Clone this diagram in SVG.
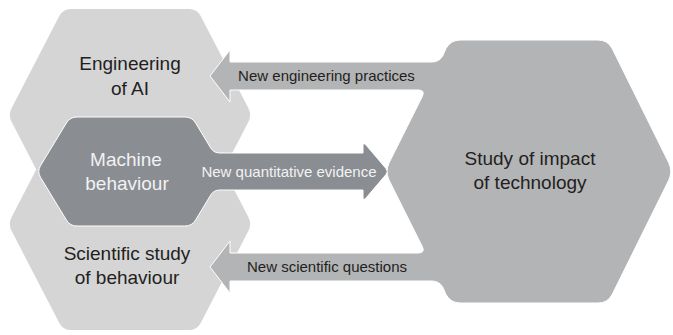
<svg xmlns="http://www.w3.org/2000/svg" width="673" height="335" viewBox="0 0 673 335">
<style>
text{font-family:"Liberation Sans",Arial,Helvetica,sans-serif;text-anchor:middle}
.hl{fill:#d5d5d6}
.big{fill:#b3b4b6;stroke:#fff;stroke-width:1;stroke-linejoin:round}
.dark{fill:#8a8d92;stroke:#fff;stroke-width:1;stroke-linejoin:round}
.t{font-size:19px;fill:#231f20}
.tw{font-size:19px;fill:#f2f2f2}
.a{font-size:15px;fill:#231f20}
.aw{font-size:15px;fill:#f2f2f2}
</style>
<g id="engineering-ai">
<path class="hl" d="M71,9 L189,9 Q197,9 200.7,16.1 L248.3,107.9 Q252,115 248.3,122.1 L200.7,213.9 Q197,221 189,221 L71,221 Q63,221 59.3,213.9 L11.7,122.1 Q8,115 11.7,107.9 L59.3,16.1 Q63,9 71,9 Z"/>
<text class="t" x="130" y="70">Engineering</text>
<text class="t" x="130" y="95">of AI</text>
</g>
<g id="scientific-study">
<path class="hl" d="M71,118 L189,118 Q197,118 200.7,125.1 L248.3,216.9 Q252,224 248.3,231.1 L200.7,322.9 Q197,330 189,330 L71,330 Q63,330 59.3,322.9 L11.7,231.1 Q8,224 11.7,216.9 L59.3,125.1 Q63,118 71,118 Z"/>
<text class="t" x="127" y="260">Scientific study</text>
<text class="t" x="127" y="284">of behaviour</text>
</g>
<g id="connectors">
<path class="big" d="M210,76 L230,50 L230,62 L432,62 Q439.5,62 443,55.4 L445.8,48.8 Q450.5,40 460.5,40 L598,40 Q608,40 612.4,49 L668.6,162.5 Q673,171.5 668.6,180.5 L612.4,294 Q608,303 598,303 L460.5,303 Q450.5,303 445.8,294.2 L443,287.6 Q439.5,281 432,281 L230,281 L230,293 L210,267 L230,241 L230,253 L418,253 Q425.6,253 422.2,246.3 L389,180 Q385,171.5 389,163 L422.2,96.7 Q425.6,90 418,90 L230,90 L230,102 Z"/>
<text class="a" x="326.5" y="81">New engineering practices</text>
<text class="a" x="327" y="272">New scientific questions</text>
</g>
<g id="study-impact">
<text class="t" x="530" y="165">Study of impact</text>
<text class="t" x="530" y="189">of technology</text>
</g>
<g id="machine-behaviour">
<path class="dark" d="M77,117 L185,117 Q192,117 195.6,123 L211,148.5 Q214,153 220,153 L363,153 L363,146 Q363,142 366,145 L386,168.5 Q388.5,171.5 386,174.5 L366,198 Q363,201 363,197 L363,190 L220,190 Q214,190 211,194.5 L195.6,220 Q192,226 185,226 L77,226 Q70,226 66.4,220 L40.6,177.5 Q37,171.5 40.6,165.5 L66.4,123 Q70,117 77,117 Z"/>
<text class="tw" x="126" y="166">Machine</text>
<text class="tw" x="127" y="190">behaviour</text>
<text class="aw" x="289" y="177">New quantitative evidence</text>
</g>
</svg>
